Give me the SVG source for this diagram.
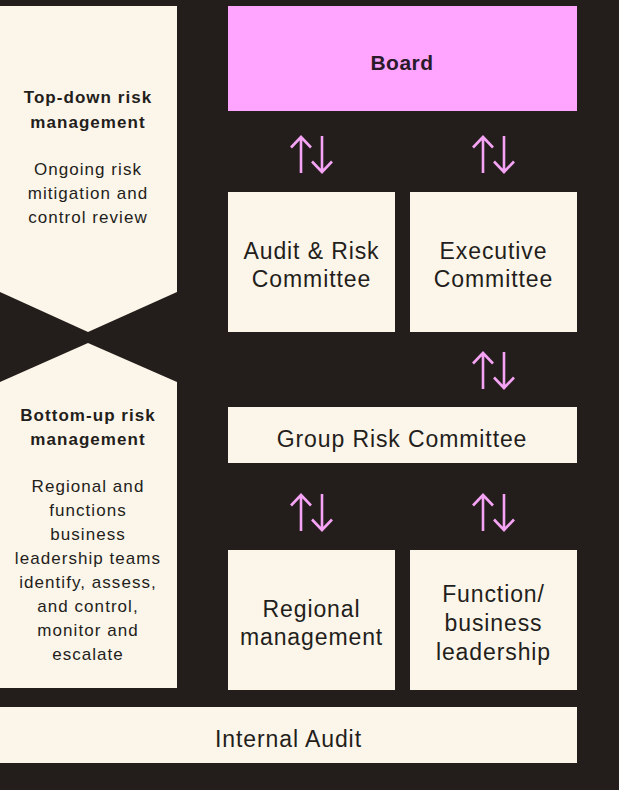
<svg xmlns="http://www.w3.org/2000/svg" width="619" height="790" viewBox="0 0 619 790">
<style>
.bg{fill:#231E1B}
.cream{fill:#FCF5E9}
.pink{fill:#FFA5FF}
.t{font-family:"Liberation Sans",Arial,sans-serif;fill:#231E1B;text-anchor:middle}
.node{font-size:23px;letter-spacing:0.9px}
.side{font-size:17px;letter-spacing:1.05px}
.b{font-weight:bold}
.arr{fill:none;stroke:#F5A3F5;stroke-width:2.6;stroke-linecap:butt;stroke-linejoin:miter}
</style>
<defs>
<g id="updown">
<path class="arr" d="M-10.5,173 V137 M-20.5,147.5 L-10.5,137 L-0.5,147.5"/>
<path class="arr" d="M10.5,136 V172 M0.5,161.5 L10.5,172 L20.5,161.5"/>
</g>
</defs>
<rect class="bg" x="0" y="0" width="619" height="790"/>

<g id="top-down">
<polygon class="cream" points="0,6 177,6 177,292 88,332 0,292"/>
<text class="t side b" x="88" y="103">Top-down risk</text>
<text class="t side b" x="88" y="128">management</text>
<text class="t side" x="88" y="175">Ongoing risk</text>
<text class="t side" x="88" y="199">mitigation and</text>
<text class="t side" x="88" y="223">control review</text>
</g>

<g id="bottom-up">
<polygon class="cream" points="0,382 88,343 177,382 177,688 0,688"/>
<text class="t side b" x="88" y="421">Bottom-up risk</text>
<text class="t side b" x="88" y="445">management</text>
<text class="t side" x="88" y="492">Regional and</text>
<text class="t side" x="88" y="516">functions</text>
<text class="t side" x="88" y="540">business</text>
<text class="t side" x="88" y="564">leadership teams</text>
<text class="t side" x="88" y="588">identify, assess,</text>
<text class="t side" x="88" y="612">and control,</text>
<text class="t side" x="88" y="636">monitor and</text>
<text class="t side" x="88" y="660">escalate</text>
</g>

<g id="board">
<rect class="pink" x="228" y="6" width="349" height="105"/>
<text class="t b" x="402" y="70" font-size="21" style="fill:#2A1A2A;letter-spacing:0.5px">Board</text>
</g>

<g id="audit-risk">
<rect class="cream" x="228" y="192" width="167" height="140"/>
<text class="t node" x="311.5" y="259">Audit &amp; Risk</text>
<text class="t node" x="311.5" y="287">Committee</text>
</g>

<g id="executive">
<rect class="cream" x="410" y="192" width="167" height="140"/>
<text class="t node" x="493.5" y="259">Executive</text>
<text class="t node" x="493.5" y="287">Committee</text>
</g>

<g id="group-risk">
<rect class="cream" x="228" y="407" width="349" height="56"/>
<text class="t node" x="402" y="447">Group Risk Committee</text>
</g>

<g id="regional">
<rect class="cream" x="228" y="550" width="167" height="140"/>
<text class="t node" x="311.5" y="617">Regional</text>
<text class="t node" x="311.5" y="645">management</text>
</g>

<g id="function">
<rect class="cream" x="410" y="550" width="167" height="140"/>
<text class="t node" x="493.5" y="602">Function/</text>
<text class="t node" x="493.5" y="631">business</text>
<text class="t node" x="493.5" y="660">leadership</text>
</g>

<g id="internal-audit">
<rect class="cream" x="0" y="707" width="577" height="56"/>
<text class="t node" x="288.5" y="747">Internal Audit</text>
</g>

<g id="connectors">
<use href="#updown" x="311.5" y="0"/>
<use href="#updown" x="493.5" y="0"/>
<use href="#updown" x="493.5" y="216"/>
<use href="#updown" x="311.5" y="358"/>
<use href="#updown" x="493.5" y="358"/>
</g>
</svg>
